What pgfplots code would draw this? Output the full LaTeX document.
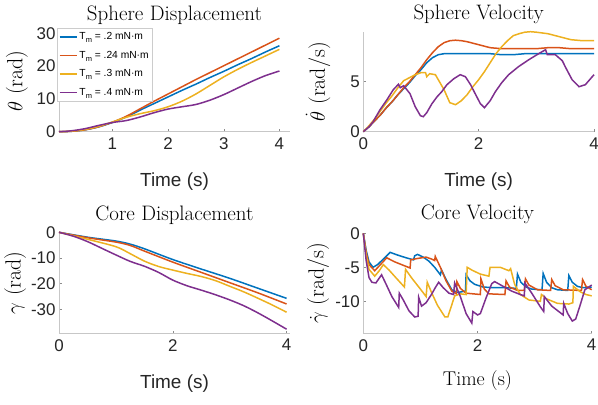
\documentclass[border=0pt]{standalone}
\usepackage{pgfplots}
\pgfplotsset{compat=1.18}
\usepackage{fontspec}
\newfontfamily\arial{Liberation Sans}
\definecolor{mblue}{rgb}{0,0.447,0.741}
\definecolor{morange}{rgb}{0.85,0.325,0.098}
\definecolor{myellow}{rgb}{0.929,0.694,0.125}
\definecolor{mpurple}{rgb}{0.494,0.184,0.556}
\pgfplotsset{
  every axis title/.style={at={(axis description cs:0.5,1)}, anchor=base, font=\fontsize{21}{21}\selectfont},
  mstyle/.style={
    scale only axis,
    axis x line=bottom, axis y line=left,
    axis line style={-, draw=black!22, line width=0.7bp},
    tick align=inside,
    major tick length=2.5bp,
    every tick/.style={draw=black!45, line width=0.5bp},
    ticklabel style={font=\arial\fontsize{17}{17}\selectfont, text=black!85},
    xticklabel style={yshift=-2.5bp},
    xlabel style={font=\arial\fontsize{19}{19}\selectfont, anchor=base, text=black!85},
    ylabel style={font=\fontsize{22}{22}\selectfont, anchor=center},
    every axis plot/.append style={line width=1.5bp, no markers},
    clip=false,
    cycle list={{mblue},{morange},{myellow},{mpurple}},
  }
}
\begin{document}
\begin{tikzpicture}
% ---------------- Sphere Displacement ----------------
\begin{axis}[mstyle,
  at={(59bp,273.3bp)}, anchor=south west,
  width=231bp, height=101.7bp,
  xmin=0.04, xmax=4.19, ymin=0, ymax=31,
  xtick={1,2,3,4}, xticklabels={1,2,3,4},
  ytick={0,10,20,30}, yticklabels={0,10,20,30},
  title={Sphere Displacement},
  title style={yshift=10bp},
  xlabel={Time (s)},
  xlabel style={at={(axis description cs:0.5,0)}, yshift=-55bp},
  ylabel={$\theta$\ (rad)},
  ylabel style={at={(axis description cs:-0.182,0.5)}},
  legend style={at={(axis description cs:0,1)}, anchor=north west, xshift=-1.7bp, yshift=1.7bp,
    draw=black!20, fill=white, font=\arial\fontsize{10.3}{11}\selectfont,
    inner xsep=1.5bp, inner ysep=2bp, row sep=6bp, cells={anchor=west}},
  legend image code/.code={\draw[#1, line width=1.5bp] (0bp,0bp) -- (17bp,0bp);},
]
\addplot+[smooth] coordinates {(0.04,0) (0.25,0.1) (0.5,0.55) (0.75,1.45) (1.0,2.8) (1.25,4.5) (1.5,6.6) (1.75,8.6) (2.0,10.6) (2.25,12.6) (2.5,14.5) (2.75,16.5) (3.0,18.4) (3.25,20.4) (3.5,22.3) (3.75,24.3) (4.0,26.2)};
\addlegendentry{T\raisebox{-0.5ex}{\fontsize{7.5}{7.5}\selectfont m} = .2 mN·m}
\addplot+[smooth] coordinates {(0.04,0) (0.25,0.1) (0.5,0.55) (0.75,1.5) (1.0,2.9) (1.25,4.7) (1.5,7.0) (1.75,9.3) (2.0,11.5) (2.25,13.7) (2.5,15.9) (2.75,18.0) (3.0,20.1) (3.25,22.2) (3.5,24.3) (3.75,26.4) (4.0,28.5)};
\addlegendentry{T\raisebox{-0.5ex}{\fontsize{7.5}{7.5}\selectfont m} = .24 mN·m}
\addplot+[smooth] coordinates {(0.04,0) (0.25,0.15) (0.5,0.65) (0.75,1.6) (1.0,2.95) (1.25,4.4) (1.5,5.5) (1.75,6.4) (2.0,7.6) (2.25,9.3) (2.5,11.5) (2.75,14.1) (3.0,16.7) (3.25,19.0) (3.5,21.1) (3.75,23.1) (4.0,25.1)};
\addlegendentry{T\raisebox{-0.5ex}{\fontsize{7.5}{7.5}\selectfont m} = .3 mN·m}
\addplot+[smooth] coordinates {(0.04,0) (0.25,0.25) (0.5,0.9) (0.75,1.9) (1.0,2.8) (1.25,3.4) (1.5,4.5) (1.75,5.8) (2.0,6.9) (2.25,7.6) (2.5,8.3) (2.75,9.6) (3.0,11.3) (3.25,13.3) (3.5,15.3) (3.75,17.1) (4.0,18.5)};
\addlegendentry{T\raisebox{-0.5ex}{\fontsize{7.5}{7.5}\selectfont m} = .4 mN·m}
\end{axis}
% ---------------- Sphere Velocity ----------------
\begin{axis}[mstyle,
  at={(363.3bp,273.3bp)}, anchor=south west,
  width=230.7bp, height=100bp,
  xmin=0, xmax=4, ymin=0, ymax=10,
  xtick={0,2,4}, xticklabels={0,2,4},
  ytick={0,5}, yticklabels={0,5},
  title={Sphere Velocity},
  title style={yshift=12.4bp},
  xlabel={Time (s)},
  xlabel style={at={(axis description cs:0.5,0)}, yshift=-55bp},
  ylabel={$\dot{\theta}$\ (rad/s)},
  ylabel style={at={(axis description cs:-0.196,0.5)}},
]
\addplot+ coordinates {(0,0) (0.1,0.5) (0.2,1.1) (0.3,1.7) (0.4,2.4) (0.5,3.0) (0.6,3.7) (0.7,4.3) (0.8,4.9) (0.9,5.6) (1.0,6.2) (1.1,6.9) (1.2,7.4) (1.3,7.7) (1.4,7.8) (1.6,7.8) (1.8,7.8) (2.0,7.8) (2.2,7.8) (2.4,7.7) (2.6,7.7) (2.8,7.8) (3.0,7.8) (3.2,7.8) (3.4,7.8) (3.6,7.8) (3.8,7.8) (4.0,7.8)};
\addplot+ coordinates {(0,0) (0.1,0.5) (0.2,1.1) (0.3,1.7) (0.4,2.4) (0.5,3.0) (0.6,3.7) (0.7,4.4) (0.8,5.0) (0.9,5.7) (1.0,6.4) (1.1,7.2) (1.2,7.9) (1.3,8.5) (1.4,8.9) (1.5,9.1) (1.6,9.15) (1.7,9.1) (1.8,9.0) (2.0,8.7) (2.2,8.4) (2.4,8.3) (2.6,8.3) (2.8,8.3) (3.0,8.3) (3.2,8.4) (3.4,8.4) (3.6,8.3) (3.8,8.3) (4.0,8.3)};
\addplot+ coordinates {(0,0) (0.1,0.6) (0.2,1.3) (0.3,2.1) (0.4,2.9) (0.5,3.6) (0.6,4.4) (0.7,5.1) (0.8,5.4) (0.9,5.7) (1.0,5.9) (1.08,5.9) (1.1,5.5) (1.15,5.8) (1.25,5.7) (1.32,5.0) (1.4,4.2) (1.5,2.9) (1.6,2.7) (1.7,3.1) (1.8,3.7) (1.9,4.5) (2.0,5.2) (2.1,6.0) (2.2,6.9) (2.3,7.8) (2.4,8.5) (2.5,9.1) (2.6,9.6) (2.7,9.8) (2.8,9.95) (2.9,10.0) (3.0,9.95) (3.2,9.8) (3.4,9.5) (3.6,9.2) (3.8,9.1) (4.0,9.1)};
\addplot+ coordinates {(0,0) (0.1,0.5) (0.17,1.0) (0.29,2.2) (0.41,3.2) (0.52,4.2) (0.61,4.75) (0.64,4.4) (0.7,4.6) (0.81,3.8) (0.9,2.5) (0.99,1.6) (1.04,1.5) (1.1,1.9) (1.19,2.8) (1.28,3.5) (1.36,4.0) (1.45,4.7) (1.57,5.3) (1.68,5.7) (1.77,5.5) (1.86,4.7) (1.94,3.8) (2.03,2.8) (2.1,2.4) (2.2,3.1) (2.29,4.0) (2.4,4.9) (2.52,5.7) (2.69,6.5) (2.87,7.2) (3.04,7.8) (3.16,8.2) (3.19,7.7) (3.33,7.7) (3.45,7.1) (3.51,6.4) (3.62,5.2) (3.74,4.5) (3.85,4.7) (4.0,5.7)};
\end{axis}
% ---------------- Core Displacement ----------------
\begin{axis}[mstyle,
  at={(59bp,71.7bp)}, anchor=south west,
  width=231bp, height=101bp,
  xmin=0, xmax=4.06, ymin=-39.3, ymax=0,
  xtick={0,2,4}, xticklabels={0,2,4},
  ytick={-30,-20,-10,0}, yticklabels={-30,-20,-10,0},
  title={Core Displacement},
  title style={yshift=11.6bp},
  xlabel={Time (s)},
  xlabel style={at={(axis description cs:0.5,0)}, yshift=-55bp},
  ylabel={$\gamma$\ (rad)},
  ylabel style={at={(axis description cs:-0.19,0.5)}},
]
\addplot+[smooth] coordinates {(0,0) (0.5,-1.9) (1,-3.4) (1.25,-4.6) (1.5,-6.4) (2,-10.6) (2.5,-14.3) (3,-17.9) (3.5,-21.8) (4,-25.7)};
\addplot+[smooth] coordinates {(0,0) (0.5,-2.1) (1,-3.8) (1.25,-5.1) (1.5,-7.3) (2,-11.6) (2.5,-15.6) (3,-19.6) (3.5,-23.6) (4,-27.9)};
\addplot+[smooth] coordinates {(0,0) (0.5,-2.7) (1,-5.6) (1.25,-8.3) (1.5,-11.2) (1.75,-13.3) (2,-14.7) (2.25,-16.0) (2.5,-17.2) (2.75,-18.8) (3,-21.0) (3.25,-23.2) (3.5,-25.7) (3.75,-28.3) (4,-31.1)};
\addplot+[smooth] coordinates {(0,0) (0.25,-1.5) (0.5,-3.6) (0.75,-6.2) (1,-8.8) (1.25,-11.3) (1.5,-13.2) (1.75,-15.6) (2,-18.6) (2.25,-20.8) (2.5,-22.5) (2.75,-24.3) (3,-26.3) (3.25,-28.6) (3.5,-31.4) (3.75,-34.5) (4,-37.7)};
\end{axis}
% ---------------- Core Velocity ----------------
\begin{axis}[mstyle,
  at={(363.3bp,71.7bp)}, anchor=south west,
  width=228.4bp, height=100bp,
  xmin=0, xmax=4, ymin=-14.7, ymax=0,
  xtick={0,2,4}, xticklabels={0,2,4},
  ytick={-10,-5,0}, yticklabels={-10,-5,0},
  title={Core Velocity},
  title style={yshift=13.3bp},
  xlabel={Time (s)},
  xlabel style={at={(axis description cs:0.5,0)}, yshift=-51.7bp, font=\fontsize{20}{20}\selectfont, text=black},
  ylabel={$\dot{\gamma}$\ (rad/s)},
  ylabel style={at={(axis description cs:-0.198,0.5)}},
]
\addplot+ coordinates {(0,0) (0.05,-2.5) (0.1,-4.2) (0.17,-5.0) (0.25,-4.6) (0.35,-3.8) (0.47,-2.8) (0.6,-3.2) (0.75,-3.6) (0.88,-3.9) (0.9,-3.3) (0.95,-3.1) (1.05,-3.5) (1.15,-4.1) (1.25,-5.0) (1.35,-6.1) (1.37,-5.4) (1.45,-6.8) (1.55,-8.3) (1.65,-8.7) (1.79,-8.5) (1.8,-6.1) (1.87,-7.0) (1.95,-7.5) (2.1,-7.9) (2.3,-8.0) (2.5,-8.0) (2.68,-8.1) (2.7,-6.0) (2.76,-7.2) (2.85,-7.9) (2.95,-8.2) (3.13,-8.3) (3.15,-5.9) (3.21,-7.2) (3.3,-8.0) (3.4,-8.3) (3.58,-8.4) (3.6,-6.2) (3.66,-7.2) (3.75,-7.8) (3.85,-8.0) (4.0,-7.9)};
\addplot+ coordinates {(0,0) (0.05,-2.8) (0.1,-4.6) (0.2,-5.5) (0.3,-4.6) (0.41,-3.6) (0.55,-4.2) (0.7,-4.7) (0.82,-5.1) (0.83,-3.9) (0.95,-3.7) (1.1,-3.5) (1.2,-3.8) (1.25,-4.0) (1.26,-3.4) (1.35,-5.0) (1.45,-7.0) (1.55,-8.5) (1.63,-8.9) (1.64,-7.1) (1.7,-8.1) (1.8,-8.8) (2.05,-9.0) (2.06,-6.7) (2.12,-8.2) (2.2,-8.9) (2.48,-9.0) (2.5,-7.0) (2.56,-7.9) (2.7,-8.4) (2.82,-8.4) (2.84,-6.7) (2.9,-7.6) (3.05,-8.3) (3.28,-8.4) (3.3,-6.8) (3.36,-7.7) (3.5,-8.3) (3.82,-8.4) (3.84,-6.8) (3.9,-7.8) (4.0,-8.3)};
\addplot+ coordinates {(0,0) (0.05,-3.2) (0.1,-5.3) (0.2,-6.3) (0.28,-5.5) (0.35,-4.6) (0.45,-5.4) (0.6,-6.8) (0.72,-7.9) (0.74,-5.3) (0.85,-6.6) (1.0,-8.2) (1.1,-9.3) (1.12,-7.2) (1.2,-8.8) (1.3,-10.6) (1.43,-12.3) (1.48,-12.3) (1.55,-10.5) (1.6,-9.2) (1.7,-8.9) (1.8,-9.0) (1.82,-5.0) (1.9,-5.4) (2.05,-6.0) (2.2,-6.3) (2.22,-5.0) (2.4,-5.0) (2.55,-5.5) (2.58,-5.2) (2.65,-7.5) (2.75,-9.0) (2.9,-9.8) (3.1,-10.0) (3.12,-9.0) (3.2,-9.6) (3.4,-10.3) (3.6,-10.4) (3.67,-10.2) (3.68,-7.8) (3.8,-8.6) (3.9,-9.0) (4.0,-9.2)};
\addplot+ coordinates {(0,0) (0.05,-4) (0.1,-6.5) (0.15,-7.2) (0.22,-7.3) (0.32,-6.1) (0.4,-7.5) (0.5,-9.3) (0.62,-10.9) (0.63,-8.8) (0.7,-9.8) (0.8,-11.4) (0.9,-12.3) (0.96,-12.2) (0.97,-9.4) (1.02,-10.7) (1.1,-10.2) (1.2,-8.9) (1.26,-8.0) (1.32,-7.2) (1.4,-8.0) (1.5,-8.8) (1.58,-9.0) (1.6,-7.3) (1.7,-9.3) (1.8,-11.8) (1.9,-13.2) (1.92,-11.5) (2.0,-12.0) (2.05,-11.8) (2.15,-9.5) (2.25,-7.4) (2.3,-7.1) (2.45,-7.8) (2.6,-8.5) (2.75,-9.0) (2.82,-9.2) (2.83,-7.3) (2.95,-8.8) (3.1,-10.8) (3.16,-11.5) (3.17,-9.3) (3.3,-10.7) (3.5,-12.0) (3.51,-10.3) (3.58,-11.8) (3.66,-12.9) (3.72,-12.6) (3.8,-10.5) (3.88,-8.3) (4.0,-7.6)};
\end{axis}
\pgfresetboundingbox
\useasboundingbox (0,0) rectangle (598bp,405bp);
\end{tikzpicture}
\end{document}
